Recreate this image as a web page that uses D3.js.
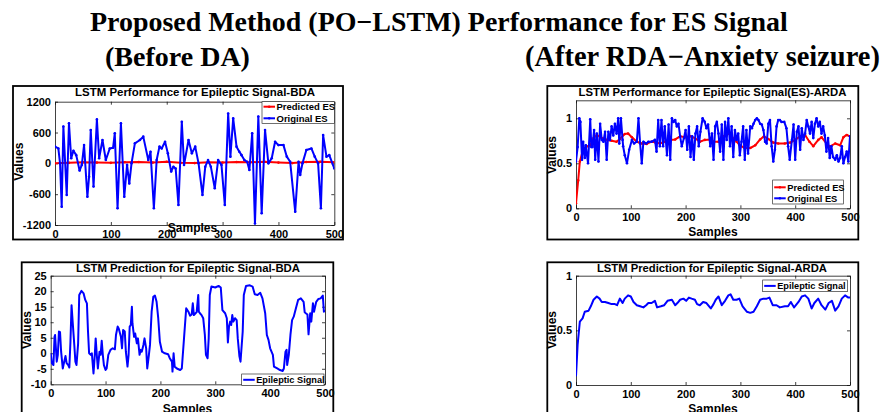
<!DOCTYPE html>
<html><head><meta charset="utf-8">
<script src="https://cdn.jsdelivr.net/npm/d3@7"></script>
<style>html,body{margin:0;padding:0;background:#fff;} svg{display:block;}</style>
</head><body><svg id="chart" width="882" height="412"></svg>
<script>
// ---------- DATA ----------
const superTitle = "Proposed Method (PO\u2212LSTM) Performance for ES Signal";
const leftSubtitle = "(Before DA)";
const rightSubtitle = "(After RDA\u2212Anxiety seizure)";

const xTicks = [0, 100, 200, 300, 400, 500];
const yTicksBDAPerf = [-1200, -600, 0, 600, 1200];
const yTicksARDA = [0, 0.5, 1];
const yTicksBDAPred = [-10, -5, 0, 5, 10, 15, 20, 25];

// [sample, value]
const bdaOriginalES = [[0,325],[6,290],[9,0],[12,-845],[15,715],[21,-615],[25,780],[29,100],[33,245],[38,160],[44,-140],[48,-30],[52,355],[58,-650],[61,-260],[64,650],[69,-450],[75,855],[79,100],[85,455],[91,65],[98,290],[104,305],[107,585],[112,-875],[118,780],[124,-650],[129,-30],[133,-390],[137,0],[143,390],[152,455],[158,520],[167,65],[171,225],[177,-875],[182,65],[187,325],[191,290],[197,420],[202,195],[208,-160],[212,-65],[216,-100],[221,-810],[227,810],[231,-30],[239,455],[245,195],[251,325],[257,0],[264,-615],[269,-65],[274,65],[279,-65],[286,-485],[292,65],[298,-30],[304,-810],[310,970],[314,130],[319,875],[325,325],[330,225],[334,160],[339,65],[344,30],[348,-130],[353,585],[358,-1170],[364,910],[370,-970],[376,650],[382,0],[388,100],[394,420],[400,355],[409,355],[415,130],[421,30],[430,-940],[436,30],[439,-225],[443,0],[450,260],[459,290],[465,130],[471,0],[476,-875],[480,550],[486,130],[491,160],[500,-100]];
const bdaPredictedES = [[0,0],[25,10],[50,20],[75,15],[100,10],[125,20],[150,25],[175,15],[200,30],[225,10],[250,5],[275,20],[300,15],[325,25],[350,20],[375,30],[400,15],[425,5],[450,25],[475,30],[500,20]];

const ardaOriginalES = [[0,0.52],[3,0.68],[6,1.0],[8,0.96],[11,0.54],[13,0.74],[16,0.56],[18,0.70],[20,0.59],[22,0.50],[26,0.99],[28,0.68],[30,0.68],[33,0.87],[35,0.54],[38,0.83],[41,0.52],[44,0.94],[47,0.76],[50,0.74],[53,0.85],[56,0.54],[59,0.85],[62,0.76],[65,0.91],[68,0.81],[71,0.94],[74,0.83],[77,1.0],[79,0.72],[82,1.0],[85,0.76],[86,0.69],[89,0.59],[93,0.50],[97,0.65],[102,0.76],[106,0.72],[111,0.74],[114,1.0],[117,0.72],[120,0.50],[123,0.74],[128,0.72],[132,0.74],[138,0.74],[144,0.76],[147,0.63],[150,0.98],[153,0.69],[156,0.98],[159,0.69],[162,0.91],[166,0.59],[169,0.93],[172,0.54],[175,1.0],[178,0.96],[181,0.98],[184,0.91],[187,0.94],[190,0.80],[193,0.69],[197,0.78],[200,0.87],[203,0.65],[206,0.91],[209,0.57],[212,0.80],[215,0.54],[218,0.83],[221,0.91],[224,0.69],[227,0.85],[231,1.0],[235,0.96],[238,0.89],[241,0.93],[245,0.69],[248,0.83],[251,0.54],[254,0.91],[257,0.96],[260,0.83],[263,0.63],[266,0.93],[269,0.54],[272,0.96],[275,0.76],[278,1.0],[281,0.69],[284,0.91],[287,0.57],[290,0.87],[293,0.76],[296,0.83],[299,0.59],[302,0.74],[305,0.91],[308,0.54],[311,0.87],[314,0.61],[318,0.91],[321,0.89],[324,0.94],[327,0.98],[330,1.0],[333,0.98],[336,0.94],[339,0.93],[342,0.87],[345,0.74],[348,0.72],[351,0.94],[354,0.98],[357,0.69],[360,0.52],[363,0.65],[366,0.91],[369,0.98],[372,0.98],[375,0.96],[380,0.96],[384,0.89],[387,0.69],[390,0.54],[394,0.76],[397,0.93],[400,0.54],[403,0.85],[406,0.91],[409,0.65],[412,0.89],[415,0.76],[418,0.83],[421,0.98],[424,0.91],[427,0.83],[430,0.96],[433,0.78],[436,0.94],[439,1.0],[442,0.91],[445,0.96],[448,0.83],[451,0.91],[454,0.81],[457,0.63],[460,0.78],[463,0.56],[466,0.69],[469,0.57],[473,0.54],[476,0.59],[479,0.52],[482,0.56],[485,0.69],[488,0.50],[491,0.57],[494,0.63],[497,0.52],[500,0.80]];
const ardaPredictedES = [[0,0.055],[4,0.31],[7,0.52],[12,0.63],[19,0.685],[26,0.70],[32,0.78],[38,0.815],[47,0.78],[56,0.76],[65,0.75],[74,0.74],[80,0.77],[89,0.825],[95,0.83],[102,0.79],[111,0.74],[120,0.72],[129,0.715],[138,0.74],[144,0.735],[153,0.72],[162,0.74],[172,0.76],[181,0.765],[190,0.80],[199,0.79],[208,0.80],[217,0.78],[226,0.74],[235,0.76],[245,0.765],[251,0.74],[260,0.74],[269,0.80],[278,0.83],[284,0.80],[293,0.74],[299,0.70],[308,0.67],[318,0.67],[327,0.70],[336,0.765],[343,0.80],[351,0.77],[360,0.73],[369,0.72],[381,0.72],[391,0.73],[400,0.76],[409,0.80],[418,0.815],[426,0.74],[433,0.69],[442,0.76],[448,0.79],[457,0.72],[463,0.685],[473,0.72],[482,0.70],[488,0.79],[494,0.815],[500,0.80]];

const bdaPrediction = [[0,0],[2,-3.2],[5,-3.8],[7,5.3],[8,5.9],[11,-2.7],[13,-0.5],[15,7.0],[17,6.8],[19,0.5],[22,-4.9],[24,-3.2],[27,-0.9],[29,-3.2],[32,-3.8],[34,-4.6],[36,3.7],[38,15.5],[40,10.2],[43,2.7],[45,-2.7],[47,-3.8],[50,3.2],[52,18.8],[56,20.1],[60,19.3],[63,17.2],[66,16.1],[68,7.0],[70,0.0],[73,-0.5],[75,0],[78,-6.5],[80,-1.6],[82,4.8],[84,-0.5],[86,-4.9],[89,0.5],[91,-0.5],[93,4.0],[95,-0.5],[97,-3.8],[100,-5.4],[102,-4.9],[105,-0.5],[109,1.1],[113,1.6],[117,1.3],[119,5.9],[122,8.6],[124,8.0],[128,5.3],[130,1.6],[132,7.5],[135,7.0],[137,0.5],[140,-4.3],[142,-0.5],[144,8.6],[146,9.1],[148,15.0],[149,9.7],[152,5.3],[154,6.4],[157,3.2],[159,4.8],[162,-0.5],[164,1.1],[166,0.5],[169,2.7],[171,4.8],[174,1.6],[176,-4.9],[179,-0.5],[181,2.7],[184,13.4],[187,18.2],[190,18.6],[193,16.6],[196,11.3],[199,3.7],[203,0.5],[208,0],[214,-0.3],[217,-1.6],[221,-2.7],[222,-5.9],[224,0],[226,-4.3],[230,-4.9],[236,-5.4],[239,-4.9],[243,4.8],[247,14.5],[251,13.4],[254,12.1],[257,12.5],[259,16.1],[261,12.3],[264,12.9],[266,13.2],[269,18.8],[270,13.4],[272,12.9],[275,12.3],[278,11.3],[281,5.9],[283,-0.5],[286,-1.6],[288,4.8],[290,18.8],[293,21.5],[300,21.2],[306,21.7],[310,21.2],[313,13.9],[318,12.9],[321,11.3],[323,3.5],[325,8.6],[327,10.2],[329,9.1],[331,12.3],[333,10.2],[336,11.3],[339,10.7],[341,4.8],[344,-1.0],[346,-2.7],[350,7.0],[352,18.8],[356,21.7],[363,21.9],[368,21.5],[372,19.0],[377,18.8],[382,19.5],[386,17.7],[391,12.9],[394,5.9],[397,4.3],[400,1.6],[405,-0.5],[407,-4.3],[413,-4.9],[418,-5.4],[423,-5.7],[425,-4.9],[428,0.5],[430,1.1],[431,-3.8],[434,-0.5],[437,5.9],[440,10.7],[443,11.8],[447,14.5],[451,17.2],[456,17.7],[461,16.6],[463,13.2],[465,12.9],[468,12.5],[470,6.1],[473,12.9],[475,10.2],[478,16.1],[480,13.4],[484,16.6],[488,17.5],[492,17.7],[496,18.6],[498,13.4],[500,13.9]];

const ardaPrediction = [[0,0.08],[3,0.37],[7,0.58],[12,0.61],[16,0.67],[23,0.68],[27,0.72],[32,0.78],[38,0.81],[43,0.79],[47,0.76],[53,0.76],[59,0.75],[65,0.74],[71,0.74],[75,0.73],[80,0.79],[85,0.75],[89,0.79],[95,0.82],[100,0.81],[105,0.76],[111,0.73],[117,0.72],[123,0.71],[128,0.73],[132,0.75],[138,0.75],[144,0.77],[148,0.71],[155,0.72],[161,0.73],[167,0.77],[175,0.78],[181,0.73],[185,0.75],[190,0.78],[196,0.79],[201,0.77],[206,0.80],[211,0.79],[217,0.78],[221,0.74],[226,0.73],[232,0.76],[238,0.75],[246,0.70],[251,0.74],[255,0.78],[260,0.81],[266,0.73],[272,0.77],[278,0.82],[282,0.83],[287,0.78],[293,0.78],[298,0.79],[304,0.72],[312,0.67],[318,0.66],[324,0.67],[330,0.72],[336,0.78],[342,0.79],[348,0.79],[353,0.80],[359,0.73],[366,0.73],[372,0.71],[381,0.72],[387,0.72],[392,0.76],[398,0.71],[406,0.76],[412,0.81],[418,0.82],[424,0.79],[430,0.70],[435,0.75],[442,0.79],[448,0.73],[455,0.69],[461,0.75],[467,0.77],[473,0.68],[479,0.72],[485,0.79],[491,0.82],[497,0.80],[500,0.80]];

// ---------- LAYOUT ----------
const RED = "#ff0000", BLUE = "#0000ff", INK = "#111";
const SANS = "'Liberation Sans', Arial, sans-serif";
const SERIF = "'Liberation Serif', 'Times New Roman', serif";

const panels = [
  { frame:[13,86,343,239.5], plot:[55,101.7,334.3,225], yDomain:[-1200,1200], yTicks:yTicksBDAPerf,
    title:"LSTM Performance for Epileptic Signal-BDA", titleX:195, titleY:96, titleW:240,
    series:[{data:bdaPredictedES,color:RED,marker:true,name:"Predicted ES"},{data:bdaOriginalES,color:BLUE,marker:true,name:"Original ES"}],
    legend:{box:[262,101.7,334.3,123.3], rows:[106.7,118.3], fs:9.5},
    xlab:[192.5,232], ylab:[22.5,161.7] },
  { frame:[547.3,86,858.3,239.5], plot:[576,100.3,850,208.3], yDomain:[0,1.2], yTicks:yTicksARDA,
    title:"LSTM Performance for Epileptic Signal(ES)-ARDA", titleX:712.5, titleY:96, titleW:268,
    series:[{data:ardaPredictedES,color:RED,marker:true,name:"Predicted ES"},{data:ardaOriginalES,color:BLUE,marker:true,name:"Original ES"}],
    legend:{box:[772.7,180,843.3,204], rows:[187.3,198.3], fs:9.3},
    xlab:[713,236], ylab:[556,155] },
  { frame:[21.7,262.3,333.3,430], plot:[50.7,275.7,325,384.3], yDomain:[-10,25], yTicks:yTicksBDAPred,
    title:"LSTM Prediction for Epileptic Signal-BDA", titleX:188, titleY:271.5, titleW:224,
    series:[{data:bdaPrediction,color:BLUE,marker:false,name:"Epileptic Signal"}],
    legend:{box:[241.7,374,324,385.5], rows:[379.8], fs:9.2},
    xlab:[187.5,413], ylab:[30.5,330] },
  { frame:[547.3,262.3,858.3,430], plot:[576,275.7,850,385], yDomain:[0,1], yTicks:yTicksARDA,
    title:"LSTM Prediction for Epileptic Signal-ARDA", titleX:712, titleY:271.5, titleW:230,
    series:[{data:ardaPrediction,color:BLUE,marker:false,name:"Epileptic Signal"}],
    legend:{box:[762.7,280,847.3,291.7], rows:[285.9], fs:9.2},
    xlab:[713,413], ylab:[556,330] }
];

const svg = d3.select("#chart");
svg.append("rect").attr("width",882).attr("height",412).attr("fill","#fff");

function fitWidth(sel, target){
  const w = sel.node().getComputedTextLength();
  const fs = parseFloat(sel.attr("font-size"));
  if (w > 0) sel.attr("font-size", (fs*target/w).toFixed(2));
}

// super titles
fitWidth(svg.append("text").attr("x",90).attr("y",31).attr("font-family",SERIF).attr("font-weight","bold")
  .attr("font-size",24).attr("fill","#000").text(superTitle), 698);
fitWidth(svg.append("text").attr("x",105).attr("y",66).attr("font-family",SERIF).attr("font-weight","bold")
  .attr("font-size",24).attr("fill","#000").text(leftSubtitle), 145);
fitWidth(svg.append("text").attr("x",525).attr("y",66).attr("font-family",SERIF).attr("font-weight","bold")
  .attr("font-size",24).attr("fill","#000").text(rightSubtitle), 355);

panels.forEach((p, i) => {
  const g = svg.append("g");
  const [fx0,fy0,fx1,fy1] = p.frame;
  g.append("rect").attr("x",fx0).attr("y",fy0).attr("width",fx1-fx0).attr("height",fy1-fy0)
    .attr("fill","#fff").attr("stroke","#000").attr("stroke-width",1.8);

  const [px0,py0,px1,py1] = p.plot;
  const x = d3.scaleLinear().domain([0,500]).range([px0,px1]);
  const y = d3.scaleLinear().domain(p.yDomain).range([py1,py0]);

  const clipId = "clip"+i;
  svg.append("clipPath").attr("id",clipId).append("rect")
    .attr("x",px0).attr("y",py0-1).attr("width",px1-px0).attr("height",py1-py0+2);

  const axStyle = sel => {
    sel.selectAll("path.domain").attr("stroke",INK).attr("stroke-width",0.8);
    sel.selectAll(".tick line").attr("stroke",INK).attr("stroke-width",0.8);
    sel.selectAll("text").attr("font-family",SANS).attr("font-weight","bold").attr("font-size",11).attr("fill","#000");
  };
  g.append("g").attr("transform",`translate(0,${py1})`)
    .call(d3.axisBottom(x).tickValues(xTicks).tickSize(-3).tickSizeOuter(0).tickPadding(5)).call(axStyle);
  g.append("g").attr("transform",`translate(0,${py0})`)
    .call(d3.axisTop(x).tickValues(xTicks).tickSize(-3).tickSizeOuter(0).tickFormat("")).call(axStyle);
  g.append("g").attr("transform",`translate(${px0},0)`)
    .call(d3.axisLeft(y).tickValues(p.yTicks).tickSize(-3).tickSizeOuter(0).tickPadding(4).tickFormat(d=>String(d))).call(axStyle);
  g.append("g").attr("transform",`translate(${px1},0)`)
    .call(d3.axisRight(y).tickValues(p.yTicks).tickSize(-3).tickSizeOuter(0).tickFormat("")).call(axStyle);

  // series
  const line = d3.line().x(d=>x(d[0])).y(d=>y(d[1]));
  const sg = g.append("g").attr("clip-path",`url(#${clipId})`);
  p.series.forEach(s => {
    sg.append("path").datum(s.data).attr("d",line).attr("fill","none")
      .attr("stroke",s.color).attr("stroke-width",2).attr("stroke-linejoin","round");
    if (s.marker) {
      sg.selectAll(null).data(s.data).enter().append("circle")
        .attr("cx",d=>x(d[0])).attr("cy",d=>y(d[1])).attr("r",1.3).attr("fill",s.color);
    }
  });

  // title
  const t = g.append("text").attr("x",p.titleX).attr("y",p.titleY).attr("text-anchor","middle")
    .attr("font-family",SANS).attr("font-weight","bold").attr("font-size",10.5).attr("fill","#000").text(p.title);
  fitWidth(t, p.titleW);

  // axis labels
  g.append("text").attr("x",p.xlab[0]).attr("y",p.xlab[1]).attr("text-anchor","middle")
    .attr("font-family",SANS).attr("font-weight","bold").attr("font-size",12).attr("fill","#000").text("Samples");
  g.append("text").attr("transform",`translate(${p.ylab[0]},${p.ylab[1]}) rotate(-90)`).attr("text-anchor","middle")
    .attr("font-family",SANS).attr("font-weight","bold").attr("font-size",12).attr("fill","#000").text("Values");

  // legend
  const L = p.legend;
  const [lx0,ly0,lx1,ly1] = L.box;
  g.append("rect").attr("x",lx0).attr("y",ly0).attr("width",lx1-lx0).attr("height",ly1-ly0)
    .attr("fill","#fff").attr("stroke",INK).attr("stroke-width",0.6);
  p.series.forEach((s, k) => {
    const ry = L.rows[k];
    g.append("line").attr("x1",lx0+1.5).attr("x2",lx0+13).attr("y1",ry).attr("y2",ry)
      .attr("stroke",s.color).attr("stroke-width",2);
    if (s.marker) g.append("circle").attr("cx",lx0+7.2).attr("cy",ry).attr("r",1.3).attr("fill",s.color);
    g.append("text").attr("x",lx0+14.5).attr("y",ry).attr("dy","0.35em")
      .attr("font-family",SANS).attr("font-weight","bold").attr("font-size",L.fs).attr("fill","#000").text(s.name);
  });
});
</script>
</body></html>
